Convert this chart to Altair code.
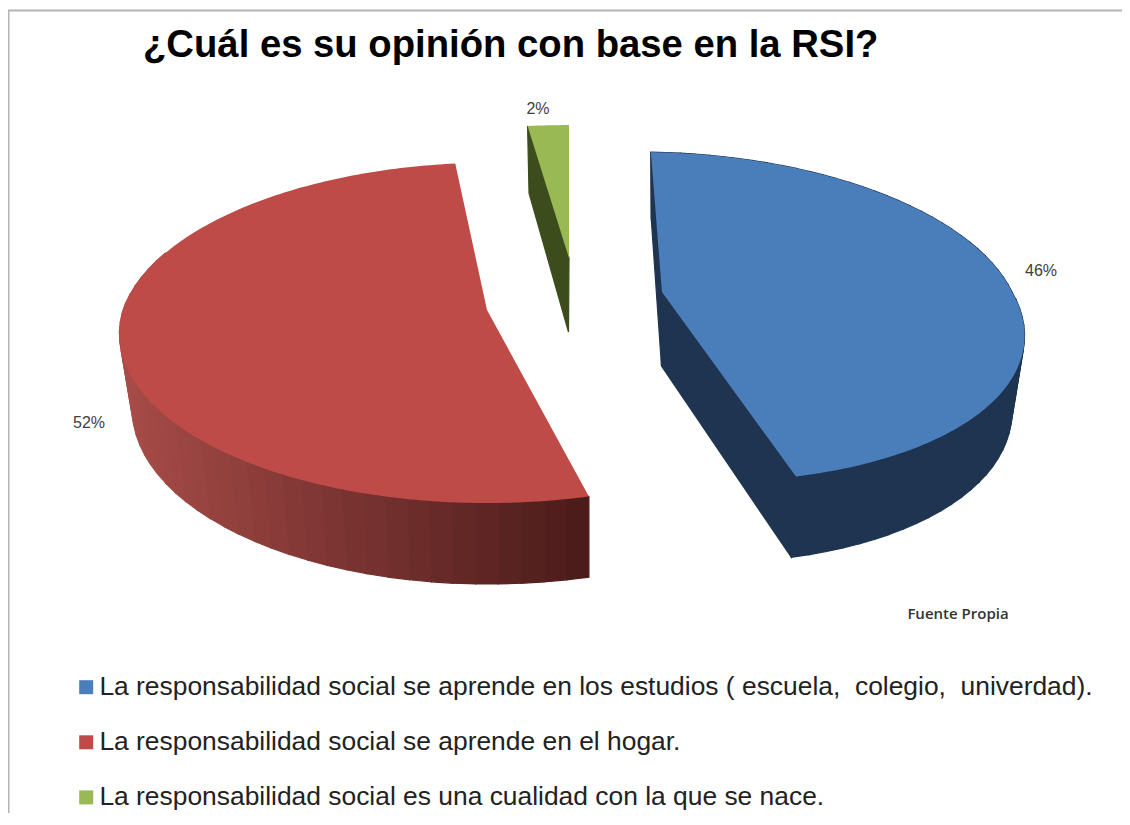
import math
import altair as alt

TITLE = "¿Cuál es su opinión con base en la RSI?"
CATEGORIES = [
    "La responsabilidad social se aprende en los estudios (\u00a0escuela,\u00a0 colegio,\u00a0 univerdad).",
    "La responsabilidad social se aprende en el hogar.",
    "La responsabilidad social es una cualidad con la que se nace.",
]
SHARES = [46, 52, 2]
TOP_COLORS = ["#4a7ebb", "#be4b48", "#98b954"]
SIDE_BLUE = "#1f3450"
SIDE_GREEN = "#3c4c1c"
RED_SIDE_LEFT = (168, 76, 72)
RED_SIDE_RIGHT = (76, 28, 27)

OFF = 8  # page margin
W, H = 1114, 805

# slice geometry: exploded positions on a tilted 3-D disc
LAYOUT = [
    dict(cx=662, cy=292, A=350, B=161, Bb=161, p=.151, start=2.0, s_back=25, s_front=40, kr=.965),
    dict(cx=487, cy=310, A=364, B=166, Bb=168, p=.14, start=166.0, s_back=-7, s_front=0, kr=1.0),
    dict(cx=569, cy=258, A=380, B=153, Bb=153, p=.151, start=352.8, s_back=0, s_front=0, kr=.965),
]
K_BOTTOM = .965


def top_pt(g, deg):
    t = math.radians(deg)
    u, v = math.sin(t), -math.cos(t)
    d = 1 - g["p"] * v
    s = g["s_front"] if v > 0 else g["s_back"]
    b = g["B"] if v > 0 else g["Bb"]
    return g["cx"] + (g["A"] * u + s * v) / d, g["cy"] + b * v / d, v


def bottom_pt(g, deg):
    x, y, v = top_pt(g, deg)
    k = g["kr"] if x > g["cx"] else K_BOTTOM
    return g["cx"] + (x - g["cx"]) * k, y + 74 + 7 * v


def feature(points, **props):
    ring = [[round(x - OFF, 2), round(y - OFF, 2)] for x, y in points]
    ring.append(ring[0])
    return {"type": "Feature", "geometry": {"type": "Polygon", "coordinates": [ring]},
            "properties": props}


tops, sides = [], []
for idx, (cat, share, g) in enumerate(zip(CATEGORIES, SHARES, LAYOUT)):
    total = share * 3.6
    n = max(6, share * 4)
    angles = [g["start"] + total * i / n for i in range(n + 1)]
    apex = (g["cx"], g["cy"])
    apex_b = (g["cx"] - .5, g["cy"] + 74)
    tops.append(feature([apex] + [top_pt(g, a)[:2] for a in angles], slice=cat))
    if idx == 0:
        for a in (angles[0], angles[-1]):
            sides.append(feature([apex, top_pt(g, a)[:2], bottom_pt(g, a), apex_b], c=SIDE_BLUE))
    if idx == 2:
        a = angles[0]
        sides.append(feature([apex, top_pt(g, a)[:2], bottom_pt(g, a), apex_b], c=SIDE_GREEN))
    if idx in (0, 1):
        steps = 60
        for i in range(steps):
            a0 = g["start"] + total * i / steps
            a1 = g["start"] + total * (i + 1) / steps
            if idx == 1 and top_pt(g, a0)[2] < -.35:
                continue
            col = SIDE_BLUE
            if idx == 1:
                xm = top_pt(g, a0)[0]
                f = max(0, min(1, (xm - 119) / (590 - 119)))
                col = "#%02x%02x%02x" % tuple(
                    round(l + (r - l) * f) for l, r in zip(RED_SIDE_LEFT, RED_SIDE_RIGHT))
            sides.append(feature([top_pt(g, a0)[:2], top_pt(g, a1)[:2],
                                  bottom_pt(g, a1), bottom_pt(g, a0)], c=col, o=i))

proj = dict(type="identity", scale=1, translate=[0, 0])

side_layer = alt.Chart(alt.Data(values=sides)).mark_geoshape(strokeWidth=1.2).encode(
    color=alt.Color("properties.c:N", scale=None, legend=None),
    stroke=alt.Stroke("properties.c:N", scale=None, legend=None),
).project(**proj)

top_layer = alt.Chart(alt.Data(values=tops)).mark_geoshape(strokeWidth=0).encode(
    color=alt.Color(
        "properties.slice:N",
        scale=alt.Scale(domain=CATEGORIES, range=TOP_COLORS),
        legend=alt.Legend(
            title=None, orient="none", legendX=65, legendY=666, symbolType="square",
            symbolSize=196, symbolStrokeWidth=0, symbolOpacity=1, labelFont="Liberation Sans",
            labelFontSize=26.4, labelColor="#222222", labelLimit=1100, labelOffset=0,
            rowPadding=28.1, values=CATEGORIES,
        ),
    )
).project(**proj)

pct_labels = [f"{s}%" for s in SHARES]
label_px = [1041 - OFF, 89 - OFF, 538 - OFF]
label_py = [271 - OFF, 423 - OFF, 109 - OFF]
labels = alt.Chart(alt.Data(values=[
    {"t": t, "px": x, "py": y} for t, x, y in zip(pct_labels, label_px, label_py)
])).mark_text(font="Liberation Sans", fontSize=16, color="#404040").encode(
    x=alt.X("px:Q", scale=None), y=alt.Y("py:Q", scale=None), text="t:N")

source = alt.Chart(alt.Data(values=[{"t": "Fuente Propia", "px": 958 - OFF, "py": 614 - OFF}])).mark_text(
    font="Open Sans", fontSize=15, fontWeight=600, color="#333333"
).encode(x=alt.X("px:Q", scale=None), y=alt.Y("py:Q", scale=None), text="t:N")

title_mark = alt.Chart(alt.Data(values=[{"t": TITLE, "px": 143 - OFF, "py": 57 - OFF}])).mark_text(
    font="Liberation Sans", fontSize=38.25, fontWeight="bold", color="#000000",
    align="left", baseline="alphabetic"
).encode(x=alt.X("px:Q", scale=None), y=alt.Y("py:Q", scale=None), text="t:N")

frame_top = alt.Chart(alt.Data(values=[{"a": 1}])).mark_rule(color="#b4b4b4", strokeWidth=2).encode(
    x=alt.value(0), x2=alt.value(W), y=alt.value(2.5))
frame_left = alt.Chart(alt.Data(values=[{"a": 1}])).mark_rule(color="#b4b4b4", strokeWidth=2).encode(
    x=alt.value(0.5), y=alt.value(2), y2=alt.value(H))

chart = alt.layer(frame_top, frame_left, side_layer, top_layer, title_mark, labels, source).resolve_scale(
    color="independent", stroke="independent"
).properties(
    width=W, height=H, padding=0, autosize=alt.AutoSizeParams(type="none"),
    background="white",
).configure_view(stroke=None)

chart.save("out.html", embed_options={"renderer": "svg", "actions": False})
